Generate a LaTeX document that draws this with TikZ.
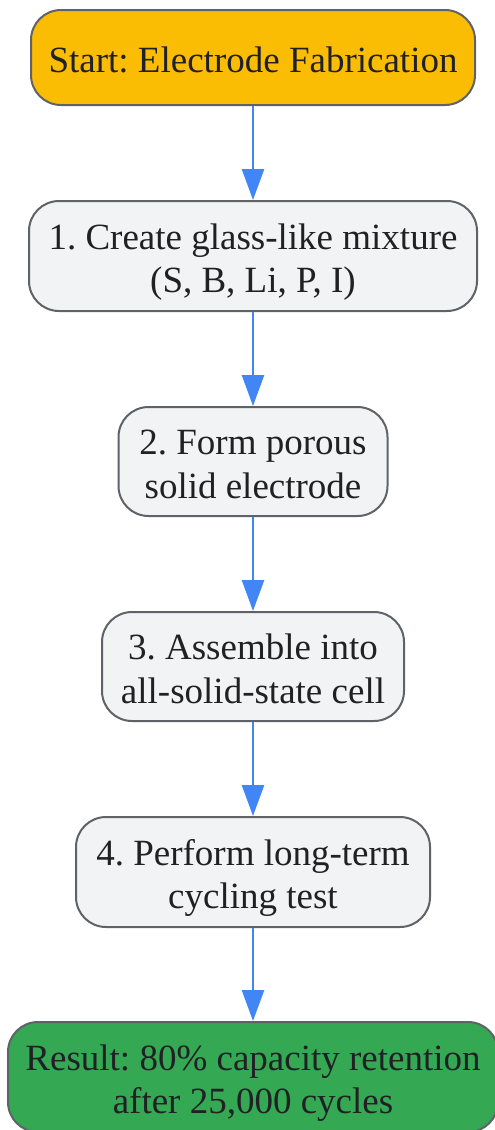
\documentclass[tikz,border=0pt]{standalone}
\usepackage{fontspec}
\setmainfont{Liberation Serif}
\usetikzlibrary{arrows.meta}
\definecolor{edgeblue}{HTML}{4285F4}
\definecolor{boxline}{HTML}{5F6368}
\definecolor{stepfill}{HTML}{F1F3F4}
\definecolor{startfill}{HTML}{FBBC04}
\definecolor{resultfill}{HTML}{34A853}
\definecolor{txt}{HTML}{202124}
\newcommand{\boxtext}[1]{\raisebox{-12.5pt}[0pt][0pt]{\begin{tabular}{@{}c@{}}#1\end{tabular}}}
\begin{document}
\frenchspacing
\begin{tikzpicture}[x=1pt,y=-1pt,
  box/.style={draw=boxline, line width=2pt, rounded corners=30pt, align=center,
    inner sep=0pt, text=txt, font=\fontsize{37}{43.5}\selectfont},
  stepbox/.style={box, fill=stepfill},
  flow/.style={draw=edgeblue, line width=2.6pt, -{Triangle[length=31pt,width=22pt]}}]
\useasboundingbox (0,0) rectangle (495,1130);
\node[box, fill=startfill, minimum width=444pt, minimum height=95pt] (s) at (253,57.5) {\boxtext{Start: Electrode Fabrication}};
\node[stepbox, minimum width=448pt, minimum height=110pt] (n1) at (253,256) {\boxtext{1. Create glass-like mixture\\(S, B, Li, P, I)}};
\node[stepbox, minimum width=269pt, minimum height=109pt] (n2) at (253,461.5) {\boxtext{2. Form porous\\solid electrode}};
\node[stepbox, minimum width=302pt, minimum height=109pt] (n3) at (253,666.5) {\boxtext{3. Assemble into\\all-solid-state cell}};
\node[stepbox, minimum width=354pt, minimum height=110pt] (n4) at (253,872) {\boxtext{4. Perform long-term\\cycling test}};
\node[box, fill=resultfill, minimum width=490pt, minimum height=110pt] (r) at (253,1077) {\boxtext{Result: 80\% capacity retention\\after 25,000 cycles}};
\draw[flow] (s.south) -- (n1.north);
\draw[flow] (n1.south) -- (n2.north);
\draw[flow] (n2.south) -- (n3.north);
\draw[flow] (n3.south) -- (n4.north);
\draw[flow] (n4.south) -- (r.north);
\end{tikzpicture}
\end{document}
